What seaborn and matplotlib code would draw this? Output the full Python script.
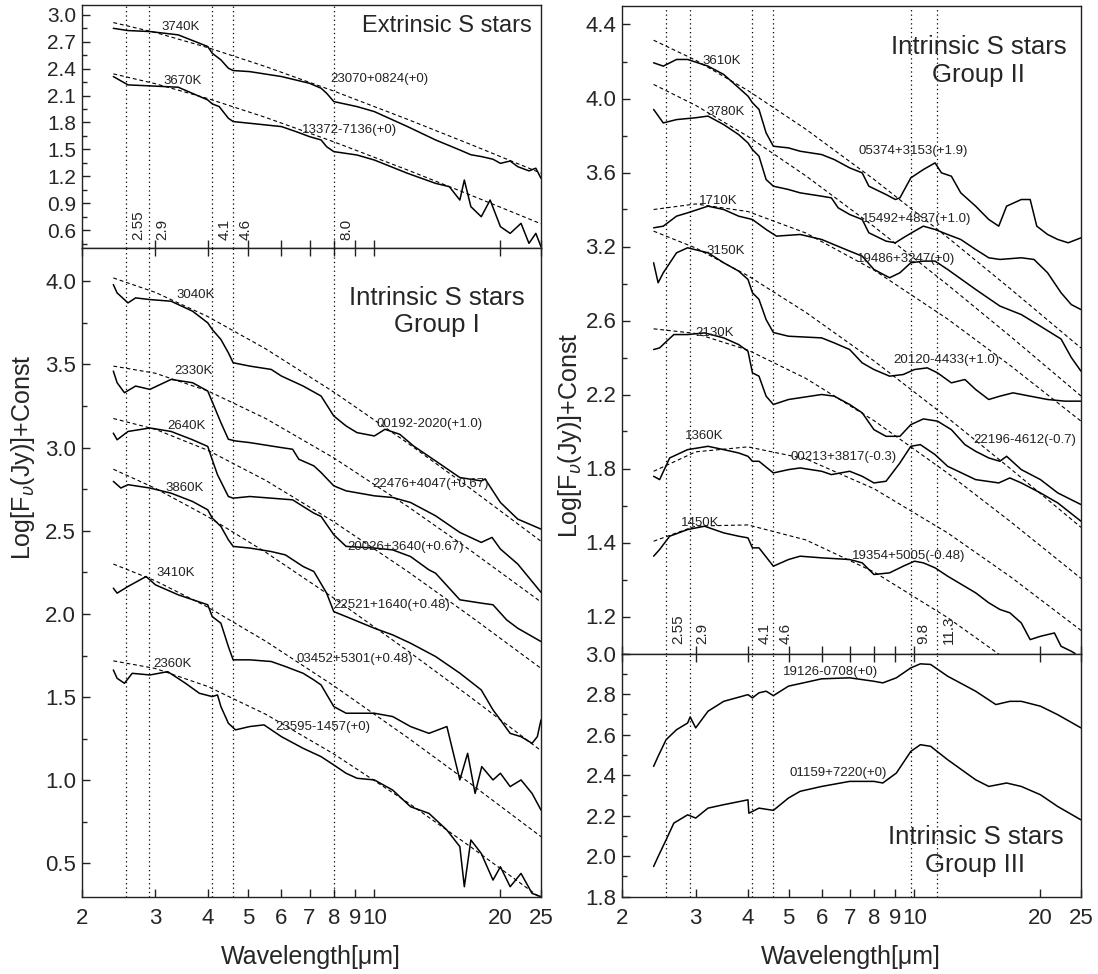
import matplotlib
matplotlib.use("Agg")
import matplotlib.pyplot as plt
from matplotlib.ticker import FixedLocator, NullLocator, MultipleLocator
import seaborn as sns

# ---------------- data ----------------
# common wavelength grid of the dashed blackbody curves [um]
BB_WL = [2.38, 3.0, 4.0, 5.5, 8.0, 12.0, 17.0, 25.0]

# --- Extrinsic S stars ---
WL_23070 = [2.38, 2.58, 2.91, 3.40, 4.0, 4.10, 4.30, 4.48, 4.60, 5.04, 6.0, 7.0, 7.46, 7.69, 8.0,
            9.09, 10.0, 12.0, 14.0, 16.0, 17.0, 18.0, 19.2, 20.0, 21.1, 22.0, 23.4, 24.3, 25.0]
FX_23070 = [2.85, 2.825, 2.814, 2.777, 2.647, 2.572, 2.498, 2.405, 2.379, 2.367, 2.312, 2.237, 2.182,
            2.126, 2.033, 1.977, 1.921, 1.754, 1.605, 1.493, 1.44, 1.42, 1.39, 1.344, 1.37, 1.307,
            1.26, 1.29, 1.177]
WL_13372 = [2.38, 2.58, 2.91, 3.40, 4.0, 4.10, 4.26, 4.48, 4.60, 5.04, 6.0, 6.50, 7.0, 7.46, 7.69,
            8.0, 9.09, 10.0, 12.0, 14.0, 15.1, 16.0, 16.4, 17.0, 18.0, 18.9, 20.0, 21.1, 22.4, 23.4,
            24.3, 25.0]
FX_13372 = [2.312, 2.219, 2.208, 2.193, 2.051, 2.007, 1.977, 1.847, 1.81, 1.791, 1.754, 1.698, 1.642,
            1.605, 1.53, 1.475, 1.437, 1.381, 1.233, 1.121, 1.084, 0.935, 1.158, 0.861, 0.749, 0.935,
            0.638, 0.563, 0.675, 0.452, 0.563, 0.414]
BB_3740 = [2.914, 2.803, 2.635, 2.423, 2.150, 1.835, 1.554, 1.235]
BB_3670 = [2.342, 2.232, 2.067, 1.856, 1.584, 1.270, 0.989, 0.670]

# --- Intrinsic S stars, group I ---
WL_00192 = [2.38, 2.43, 2.58, 2.69, 2.91, 3.27, 3.68, 4.0, 4.10, 4.30, 4.48, 4.60, 5.04, 5.67, 6.0,
            6.76, 7.46, 8.0, 8.56, 9.09, 10.0, 10.6, 11.5, 12.4, 14.0, 16.0, 18.0, 18.4, 20.0, 22.0,
            25.0]
FX_00192 = [3.98, 3.93, 3.87, 3.90, 3.89, 3.88, 3.82, 3.75, 3.71, 3.65, 3.57, 3.51, 3.49, 3.47, 3.43,
            3.37, 3.31, 3.19, 3.13, 3.09, 3.07, 3.11, 3.08, 3.01, 2.92, 2.82, 2.80, 2.81, 2.67, 2.57,
            2.51]
WL_22476 = [2.38, 2.43, 2.53, 2.69, 2.91, 3.27, 3.68, 4.0, 4.14, 4.30, 4.48, 4.66, 5.04, 6.0, 6.38,
            6.6, 7.17, 7.46, 8.0, 8.56, 10.0, 11.06, 12.2, 14.0, 16.0, 18.0, 19.1, 20.0, 22.0, 25.0]
FX_22476 = [3.46, 3.39, 3.33, 3.37, 3.35, 3.41, 3.39, 3.34, 3.25, 3.15, 3.05, 3.04, 3.03, 3.00, 2.99,
            2.93, 2.89, 2.85, 2.77, 2.74, 2.71, 2.70, 2.67, 2.59, 2.49, 2.43, 2.46, 2.39, 2.30, 2.13]
WL_20026 = [2.38, 2.43, 2.58, 2.91, 3.27, 3.68, 4.0, 4.10, 4.22, 4.48, 4.60, 5.04, 5.67, 6.38, 6.76,
            7.17, 7.46, 8.0, 8.56, 10.0, 11.06, 12.2, 13.5, 14.0, 16.0, 18.0, 19.2, 20.7, 22.0, 25.0]
FX_20026 = [3.087, 3.047, 3.097, 3.118, 3.097, 3.047, 3.007, 2.927, 2.837, 2.706, 2.696, 2.706, 2.696,
            2.686, 2.646, 2.606, 2.586, 2.476, 2.406, 2.396, 2.385, 2.345, 2.265, 2.245, 2.085, 2.065,
            2.055, 1.964, 1.914, 1.834]
WL_22521 = [2.38, 2.48, 2.58, 2.91, 3.27, 3.68, 4.0, 4.10, 4.30, 4.48, 4.60, 5.04, 5.67, 6.13, 6.76,
            7.17, 7.69, 8.0, 8.56, 10.0, 11.06, 12.2, 14.0, 16.0, 18.0, 19.2, 20.0, 21.1, 22.4, 23.8,
            24.5, 25.0]
FX_22521 = [2.797, 2.757, 2.777, 2.757, 2.726, 2.676, 2.626, 2.576, 2.526, 2.446, 2.406, 2.396, 2.375,
            2.355, 2.285, 2.255, 2.125, 2.014, 1.984, 1.914, 1.874, 1.824, 1.744, 1.644, 1.543, 1.423,
            1.363, 1.282, 1.262, 1.222, 1.262, 1.363]
WL_03452 = [2.38, 2.43, 2.58, 2.85, 3.0, 3.40, 4.0, 4.10, 4.30, 4.48, 4.60, 5.04, 5.67, 6.13, 6.76,
            7.17, 7.46, 8.0, 8.56, 10.0, 11.06, 12.2, 13.5, 14.9, 16.0, 16.7, 17.4, 18.05, 19.2, 20.0,
            21.1, 22.4, 23.8, 25.0]
FX_03452 = [2.155, 2.125, 2.165, 2.225, 2.175, 2.115, 2.055, 1.984, 1.944, 1.804, 1.724, 1.724, 1.714,
            1.684, 1.643, 1.603, 1.573, 1.443, 1.403, 1.403, 1.383, 1.323, 1.282, 1.323, 1.002, 1.162,
            0.921, 1.082, 1.002, 1.042, 0.962, 1.002, 0.921, 0.821]
WL_23595 = [2.38, 2.43, 2.53, 2.64, 2.91, 3.21, 3.54, 3.82, 4.10, 4.22, 4.30, 4.48, 4.66, 5.04, 5.45,
            6.0, 6.76, 7.46, 8.0, 8.56, 9.09, 10.0, 11.06, 12.2, 13.5, 14.9, 16.0, 16.4, 17.0, 18.0,
            19.2, 20.0, 21.1, 22.4, 23.8, 25.0]
FX_23595 = [1.663, 1.613, 1.583, 1.643, 1.633, 1.653, 1.583, 1.523, 1.503, 1.513, 1.443, 1.343, 1.303,
            1.323, 1.333, 1.262, 1.192, 1.142, 1.092, 1.042, 1.012, 1.002, 0.941, 0.841, 0.801, 0.701,
            0.601, 0.36, 0.641, 0.560, 0.400, 0.480, 0.360, 0.440, 0.320, 0.30]
BB_3040 = [4.02, 3.933, 3.788, 3.594, 3.334, 3.028, 2.752, 2.437]
BB_2330 = [3.49, 3.447, 3.341, 3.175, 2.938, 2.647, 2.380, 2.072]
BB_2640 = [3.175, 3.110, 2.984, 2.803, 2.554, 2.256, 1.984, 1.673]
BB_3860 = [2.87, 2.755, 2.585, 2.371, 2.095, 1.779, 1.498, 1.178]
BB_3410 = [2.30, 2.199, 2.041, 1.836, 1.568, 1.257, 0.978, 0.661]
BB_2360 = [1.718, 1.672, 1.564, 1.397, 1.158, 0.867, 0.599, 0.291]

# --- Intrinsic S stars, group II (y in the panel's own tick units) ---
WL_05374 = [2.38, 2.51, 2.70, 2.87, 3.21, 3.5, 3.80, 4.0, 4.1, 4.25, 4.42, 4.6, 5.0, 5.33, 6.0, 6.43,
            7.0, 7.5, 7.78, 8.55, 9.0, 9.23, 9.8, 10.5, 11.2, 11.6, 12.25, 12.9, 14.0, 15.05, 15.9,
            16.6, 18.0, 18.9, 19.6, 20.8, 22.0, 23.3, 25.0]
FX_05374 = [4.193, 4.175, 4.211, 4.211, 4.175, 4.13, 4.058, 4.013, 3.977, 3.941, 3.814, 3.742, 3.733,
            3.715, 3.697, 3.670, 3.625, 3.598, 3.526, 3.481, 3.454, 3.463, 3.571, 3.616, 3.652, 3.598,
            3.580, 3.490, 3.418, 3.346, 3.310, 3.418, 3.454, 3.454, 3.310, 3.265, 3.238, 3.220, 3.247]
WL_15492 = [2.38, 2.51, 2.70, 3.0, 3.21, 3.5, 3.80, 4.0, 4.1, 4.25, 4.42, 4.6, 5.0, 5.33, 6.0, 6.33,
            6.57, 7.0, 7.5, 7.78, 8.55, 9.0, 9.4, 10.0, 10.5, 11.2, 12.0, 12.9, 14.0, 15.05, 16.0,
            18.0, 19.3, 20.8, 22.4, 23.7, 25.0]
FX_15492 = [3.941, 3.868, 3.886, 3.896, 3.905, 3.859, 3.805, 3.760, 3.724, 3.688, 3.562, 3.526, 3.508,
            3.490, 3.472, 3.463, 3.409, 3.373, 3.346, 3.274, 3.229, 3.220, 3.247, 3.283, 3.310, 3.292,
            3.265, 3.238, 3.184, 3.139, 3.130, 3.139, 3.130, 3.058, 2.950, 2.886, 2.859]
WL_19486 = [2.38, 2.51, 2.70, 2.87, 3.21, 3.5, 3.80, 4.1, 4.42, 4.68, 5.33, 6.0, 7.0, 7.5, 8.0, 8.72,
            9.23, 9.8, 10.5, 11.2, 12.0, 14.0, 16.0, 18.0, 20.0, 22.4, 23.7, 25.0]
FX_19486 = [3.301, 3.310, 3.364, 3.382, 3.418, 3.40, 3.364, 3.346, 3.292, 3.256, 3.265, 3.238, 3.175,
            3.148, 3.076, 3.031, 3.058, 3.112, 3.121, 3.121, 3.076, 2.968, 2.878, 2.832, 2.769, 2.70,
            2.60, 2.526]
WL_20120 = [2.38, 2.44, 2.51, 2.70, 2.87, 3.21, 3.5, 3.80, 4.0, 4.1, 4.25, 4.42, 4.6, 5.0, 6.0, 6.43,
            7.0, 7.5, 8.0, 8.72, 9.4, 10.0, 10.73, 11.35, 12.25, 13.2, 14.0, 15.05, 16.0, 17.2, 18.9,
            20.8, 22.9, 25.0]
FX_20120 = [3.112, 3.004, 3.058, 3.166, 3.193, 3.166, 3.112, 3.067, 3.022, 2.95, 2.914, 2.805, 2.735,
            2.715, 2.706, 2.679, 2.643, 2.571, 2.535, 2.499, 2.508, 2.535, 2.544, 2.517, 2.463, 2.481,
            2.427, 2.373, 2.391, 2.409, 2.391, 2.373, 2.364, 2.364]
WL_22196 = [2.38, 2.46, 2.66, 2.87, 3.15, 3.5, 3.80, 4.0, 4.1, 4.25, 4.42, 4.6, 5.0, 6.0, 6.43, 7.0,
            7.5, 8.0, 8.55, 9.23, 9.8, 10.5, 11.35, 12.25, 13.2, 14.0, 15.05, 16.0, 16.6, 18.0, 20.0,
            22.0, 25.0]
FX_22196 = [2.643, 2.652, 2.724, 2.724, 2.733, 2.706, 2.67, 2.634, 2.517, 2.499, 2.391, 2.346, 2.373,
            2.400, 2.391, 2.346, 2.301, 2.21, 2.174, 2.174, 2.237, 2.268, 2.256, 2.21, 2.129, 2.093,
            2.057, 2.039, 2.066, 1.994, 1.94, 1.868, 1.805]
WL_00213 = [2.38, 2.46, 2.60, 2.87, 3.21, 3.5, 3.80, 4.0, 4.1, 4.25, 4.6, 5.0, 5.33, 6.0, 6.33, 7.0,
            7.5, 8.0, 8.55, 9.23, 9.8, 10.33, 11.2, 12.0, 14.0, 15.9, 16.9, 18.0, 20.0, 22.0, 25.0]
FX_00213 = [1.958, 1.94, 2.057, 2.102, 2.120, 2.102, 2.084, 2.066, 2.039, 2.039, 1.976, 1.994, 2.003,
            1.985, 1.967, 1.985, 1.958, 1.922, 1.931, 2.030, 2.12, 2.129, 2.075, 2.012, 1.94, 1.922,
            1.949, 1.922, 1.868, 1.814, 1.715]
WL_19354 = [2.38, 2.46, 2.60, 2.87, 3.15, 3.5, 3.80, 4.0, 4.1, 4.25, 4.6, 5.0, 5.33, 6.0, 7.0, 7.5,
            8.0, 8.72, 9.4, 10.0, 10.5, 11.2, 12.0, 14.0, 15.05, 16.0, 16.9, 18.0, 18.9, 20.0, 21.6,
            22.4, 23.7, 24.2]
FX_19354 = [1.526, 1.562, 1.634, 1.670, 1.688, 1.652, 1.634, 1.625, 1.571, 1.571, 1.472, 1.508, 1.526,
            1.517, 1.508, 1.490, 1.427, 1.436, 1.472, 1.499, 1.490, 1.463, 1.418, 1.328, 1.274, 1.238,
            1.22, 1.165, 1.075, 1.093, 1.111, 1.039, 1.012, 1.0]
BB_3610 = [4.315, 4.207, 4.043, 3.834, 3.563, 3.249, 2.969, 2.651]
BB_3780 = [4.076, 3.963, 3.795, 3.582, 3.308, 2.993, 2.712, 2.392]
BB_1710 = [3.400, 3.430, 3.389, 3.273, 3.073, 2.808, 2.554, 2.256]
BB_3150 = [3.283, 3.192, 3.042, 2.844, 2.582, 2.274, 1.997, 1.682]
BB_2130 = [2.755, 2.730, 2.640, 2.487, 2.259, 1.975, 1.711, 1.406]
BB_1360 = [1.985, 2.090, 2.117, 2.052, 1.891, 1.652, 1.413, 1.125]
BB_1450 = [1.607, 1.689, 1.695, 1.614, 1.441, 1.194, 0.950, 0.659]

# --- Intrinsic S stars, group III ---
WL_19126 = [2.38, 2.44, 2.55, 2.70, 2.87, 2.91, 3.0, 3.21, 3.5, 4.0, 4.1, 4.25, 4.42, 4.6, 5.0, 6.0,
            7.0, 8.0, 8.4, 9.05, 9.8, 10.33, 10.93, 12.0, 14.0, 15.65, 16.9, 18.0, 20.0, 22.0, 25.0]
FX_19126 = [2.443, 2.493, 2.575, 2.624, 2.657, 2.687, 2.633, 2.715, 2.764, 2.797, 2.781, 2.806, 2.814,
            2.792, 2.839, 2.875, 2.880, 2.863, 2.855, 2.880, 2.929, 2.949, 2.946, 2.888, 2.814, 2.748,
            2.764, 2.764, 2.740, 2.698, 2.633]
WL_01159 = [2.38, 2.44, 2.55, 2.66, 2.87, 3.0, 3.21, 3.5, 4.0, 4.02, 4.25, 4.6, 5.0, 5.33, 6.0, 7.0,
            8.0, 8.4, 9.05, 9.8, 10.33, 10.93, 12.0, 14.0, 15.05, 16.6, 18.0, 20.0, 22.0, 25.0]
FX_01159 = [1.949, 1.998, 2.081, 2.163, 2.204, 2.188, 2.237, 2.254, 2.278, 2.212, 2.237, 2.226, 2.287,
            2.320, 2.344, 2.369, 2.369, 2.361, 2.410, 2.517, 2.550, 2.542, 2.476, 2.377, 2.344, 2.361,
            2.344, 2.303, 2.245, 2.179]

# feature wavelengths marked with dotted lines
FEAT_LEFT = [2.55, 2.9, 4.1, 4.6, 8.0]
FEAT_LEFT_LBL = ["2.55", "2.9", "4.1", "4.6", "8.0"]
FEAT_RIGHT = [2.55, 2.9, 4.1, 4.6, 9.8, 11.3]
FEAT_RIGHT_LBL = ["2.55", "2.9", "4.1", "4.6", "9.8", "11.3"]

XTICKS = [2, 3, 4, 5, 6, 7, 8, 9, 10, 20, 25]
XTICK_LBL = ["2", "3", "4", "5", "6", "7", "8", "9", "10", "20", "25"]

# right-hand group II panel: tick positions and the labels printed there
RT_TICKS = [4.4, 4.0, 3.6, 3.2, 2.8, 2.4, 2.0, 1.6, 1.2]
RT_TICK_LBL = ["4.4", "4.0", "3.6", "3.2", "2.6", "2.2", "1.8", "1.4", "1.2"]

# ---------------- plotting ----------------
sns.set_theme(style="ticks")
plt.rcParams["font.family"] = ["Liberation Sans", "DejaVu Sans"]
plt.rcParams["axes.linewidth"] = 1.0

W, H = 1098, 974
fig = plt.figure(figsize=(W / 100, H / 100), dpi=100)


def box(x0, y0, x1, y1):
    return [x0 / W, 1 - y1 / H, (x1 - x0) / W, (y1 - y0) / H]


ax_lt = fig.add_axes(box(81.7, 5, 541, 248))
ax_lb = fig.add_axes(box(81.7, 248, 541, 896.7))
ax_rt = fig.add_axes(box(622, 6, 1081, 653.5))
ax_rb = fig.add_axes(box(622, 653.5, 1081, 896.7))


def spec(ax, wl, fx):
    sns.lineplot(x=wl, y=fx, ax=ax, color="black", linewidth=1.1,
                 estimator=None, sort=False, legend=False)


def bbody(ax, fx):
    sns.lineplot(x=BB_WL, y=fx, ax=ax, color="black", linewidth=0.8,
                 linestyle=(0, (3.5, 2.5)), estimator=None, sort=False, legend=False)


def small(ax, x, y, s):
    ax.text(x, y, s, fontsize=9.5, ha="left", va="center", color="#222222")


for ax in (ax_lt, ax_lb, ax_rt, ax_rb):
    ax.set_xscale("log")
    ax.set_xlim(2, 25)
    ax.xaxis.set_major_locator(FixedLocator(XTICKS))
    ax.xaxis.set_minor_locator(NullLocator())
    ax.tick_params(axis="both", which="major", direction="in", length=6, width=1,
                   labelsize=16, pad=4, color="#222222")
    ax.tick_params(axis="y", which="minor", direction="in", length=3.5, width=1)
    ax.tick_params(axis="x", which="major", pad=8)
    for s in ax.spines.values():
        s.set_color("#222222")

for ax in (ax_lt, ax_rt):
    ax.tick_params(axis="x", labelbottom=False)
for ax in (ax_lb, ax_rb):
    ax.set_xticklabels(XTICK_LBL)
    ax.tick_params(axis="x", top=True)

# feature lines
for ax in (ax_lt, ax_lb):
    for f in FEAT_LEFT:
        ax.axvline(f, color="black", lw=0.9, ls=(0, (1, 2.5)))
for ax in (ax_rt, ax_rb):
    for f in FEAT_RIGHT:
        ax.axvline(f, color="black", lw=0.9, ls=(0, (1, 2.5)))

# --- left top: extrinsic ---
spec(ax_lt, WL_23070, FX_23070)
spec(ax_lt, WL_13372, FX_13372)
bbody(ax_lt, BB_3740)
bbody(ax_lt, BB_3670)
small(ax_lt, 3.1, 2.86, "3740K")
small(ax_lt, 3.14, 2.26, "3670K")
small(ax_lt, 7.85, 2.28, "23070+0824(+0)")
small(ax_lt, 6.7, 1.72, "13372-7136(+0)")
ax_lt.text(0.98, 0.915, "Extrinsic S stars", transform=ax_lt.transAxes, ha="right",
           va="center", fontsize=17)
for f, lbl in zip(FEAT_LEFT, FEAT_LEFT_LBL):
    ax_lt.annotate(lbl, xy=(f, 0.49), xytext=(9, 0), textcoords="offset points",
                   rotation=90, ha="center", va="bottom", fontsize=11)
ax_lt.set_ylim(0.4, 3.11)
ax_lt.yaxis.set_major_locator(MultipleLocator(0.3))
ax_lt.yaxis.set_minor_locator(MultipleLocator(0.15))
ax_lt.set_yticks([3.0, 2.7, 2.4, 2.1, 1.8, 1.5, 1.2, 0.9, 0.6])
ax_lt.set_yticklabels(["3.0", "2.7", "2.4", "2.1", "1.8", "1.5", "1.2", "0.9", "0.6"])
ax_lt.tick_params(axis="y", labelsize=15)

# --- left bottom: group I ---
for wl, fx in [(WL_00192, FX_00192), (WL_22476, FX_22476), (WL_20026, FX_20026),
               (WL_22521, FX_22521), (WL_03452, FX_03452), (WL_23595, FX_23595)]:
    spec(ax_lb, wl, fx)
for bb in (BB_3040, BB_2330, BB_2640, BB_3860, BB_3410, BB_2360):
    bbody(ax_lb, bb)
small(ax_lb, 3.37, 3.92, "3040K")
small(ax_lb, 3.33, 3.46, "2330K")
small(ax_lb, 3.21, 3.13, "2640K")
small(ax_lb, 3.17, 2.76, "3860K")
small(ax_lb, 3.02, 2.245, "3410K")
small(ax_lb, 2.96, 1.70, "2360K")
small(ax_lb, 10.1, 3.14, "00192-2020(+1.0)")
small(ax_lb, 9.9, 2.78, "22476+4047(+0.67)")
small(ax_lb, 8.6, 2.40, "20026+3640(+0.67)")
small(ax_lb, 8.0, 2.055, "22521+1640(+0.48)")
small(ax_lb, 6.5, 1.73, "03452+5301(+0.48)")
small(ax_lb, 5.8, 1.32, "23595-1457(+0)")
ax_lb.text(0.774, 0.902, "Intrinsic S stars\nGroup I", transform=ax_lb.transAxes,
           ha="center", va="center", fontsize=18.5, linespacing=1.2)
ax_lb.set_ylim(0.3, 4.2)
ax_lb.set_yticks([0.5, 1.0, 1.5, 2.0, 2.5, 3.0, 3.5, 4.0])
ax_lb.set_yticklabels(["0.5", "1.0", "1.5", "2.0", "2.5", "3.0", "3.5", "4.0"])
ax_lb.yaxis.set_minor_locator(MultipleLocator(0.25))

# --- right top: group II ---
for wl, fx in [(WL_05374, FX_05374), (WL_15492, FX_15492), (WL_19486, FX_19486),
               (WL_20120, FX_20120), (WL_22196, FX_22196), (WL_00213, FX_00213),
               (WL_19354, FX_19354)]:
    spec(ax_rt, wl, fx)
for bb in (BB_3610, BB_3780, BB_1710, BB_3150, BB_2130, BB_1360, BB_1450):
    bbody(ax_rt, bb)
small(ax_rt, 3.12, 4.20, "3610K")
small(ax_rt, 3.18, 3.926, "3780K")
small(ax_rt, 3.05, 3.445, "1710K")
small(ax_rt, 3.18, 3.175, "3150K")
small(ax_rt, 3.0, 2.733, "2130K")
small(ax_rt, 2.83, 2.174, "1360K")
small(ax_rt, 2.76, 1.706, "1450K")
small(ax_rt, 7.34, 3.715, "05374+3153(+1.9)")
small(ax_rt, 7.5, 3.346, "15492+4837(+1.0)")
small(ax_rt, 7.3, 3.133, "19486+3247(+0)")
small(ax_rt, 8.9, 2.585, "20120-4433(+1.0)")
small(ax_rt, 13.8, 2.156, "22196-4612(-0.7)")
small(ax_rt, 5.05, 2.061, "00213+3817(-0.3)")
small(ax_rt, 7.1, 1.526, "19354+5005(-0.48)")
ax_rt.text(0.777, 0.915, "Intrinsic S stars\nGroup II", transform=ax_rt.transAxes,
           ha="center", va="center", fontsize=18.5, linespacing=1.2)
for f, lbl in zip(FEAT_RIGHT, FEAT_RIGHT_LBL):
    ax_rt.annotate(lbl, xy=(f, 1.05), xytext=(9, 0), textcoords="offset points",
                   rotation=90, ha="center", va="bottom", fontsize=11)
ax_rt.set_ylim(1.0, 4.5)
ax_rt.set_yticks(RT_TICKS)
ax_rt.set_yticklabels(RT_TICK_LBL)
ax_rt.yaxis.set_minor_locator(MultipleLocator(0.2))

# --- right bottom: group III ---
spec(ax_rb, WL_19126, FX_19126)
spec(ax_rb, WL_01159, FX_01159)
small(ax_rb, 4.84, 2.909, "19126-0708(+0)")
small(ax_rb, 5.03, 2.41, "01159+7220(+0)")
ax_rb.text(0.77, 0.188, "Intrinsic S stars\nGroup III", transform=ax_rb.transAxes,
           ha="center", va="center", fontsize=18.5, linespacing=1.2)
ax_rb.set_ylim(1.8, 3.0)
ax_rb.set_yticks([1.8, 2.0, 2.2, 2.4, 2.6, 2.8, 3.0])
ax_rb.set_yticklabels(["1.8", "2.0", "2.2", "2.4", "2.6", "2.8", "3.0"])
ax_rb.yaxis.set_minor_locator(MultipleLocator(0.1))

for ax in (ax_lt, ax_lb, ax_rt, ax_rb):
    ax.set_xlabel("")
    ax.set_ylabel("")

# axis titles
ylab = "Log[F$_{\\upsilon}$(Jy)]+Const"
fig.text(23 / W, 1 - 457 / H, ylab, rotation=90, ha="center", va="center", fontsize=18)
fig.text(570 / W, 1 - 435 / H, ylab, rotation=90, ha="center", va="center", fontsize=18)
fig.text(311 / W, 1 - 957 / H, "Wavelength[\u03bcm]", ha="center", va="center", fontsize=18)
fig.text(851 / W, 1 - 957 / H, "Wavelength[\u03bcm]", ha="center", va="center", fontsize=18)

fig.savefig("out.png", dpi=100, facecolor="white")
